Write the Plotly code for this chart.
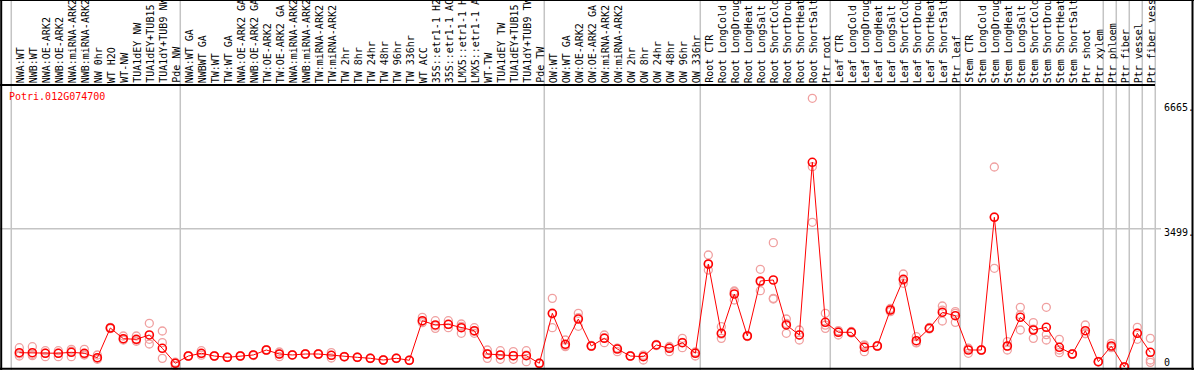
import plotly.graph_objects as go

# ---------------- data ----------------
gene_id = "Potri.012G074700"

categories = [
    "NWA:WT", "NWB:WT", "NWA:OE-ARK2", "NWB:OE-ARK2", "NWA:miRNA-ARK2", "NWB:miRNA-ARK2",
    "NW 0hr", "WT H2O", "WT-NW", "TUA1dEY NW", "TUA1dEY+TUB15 NW", "TUA1dY+TUB9 NW", "Pde NW",
    "NWA:WT GA", "NWBWT GA", "TW:WT", "TW:WT GA", "NWA:OE-ARK2 GA", "NWB:OE-ARK2 GA",
    "TW:OE-ARK2", "TW:OE-ARK2 GA", "NWA:miRNA-ARK2", "NWB:miRNA-ARK2", "TW:miRNA-ARK2",
    "TW:miRNA-ARK2", "TW 2hr", "TW 8hr", "TW 24hr", "TW 48hr", "TW 96hr", "TW 336hr",
    "WT ACC", "35S::etr1-1 H2O", "35S::etr1-1 ACC", "LMX5::etr1-1 H2O", "LMX5::etr1-1 ACC",
    "WT-TW", "TUA1dEY TW", "TUA1dEY+TUB15 TW", "TUA1dY+TUB9 TW", "Pde TW",
    "OW:WT", "OW:WT GA", "OW:OE-ARK2", "OW:OE-ARK2 GA", "OW:miRNA-ARK2", "OW:miRNA-ARK2",
    "OW 2hr", "OW 8hr", "OW 24hr", "OW 48hr", "OW 96hr", "OW 336hr",
    "Root CTR", "Root LongCold", "Root LongDrought", "Root LongHeat", "Root LongSalt",
    "Root ShortCold", "Root ShortDrought", "Root ShortHeat", "Root ShortSalt", "Ptr root",
    "Leaf CTR", "Leaf LongCold", "Leaf LongDrought", "Leaf LongHeat", "Leaf LongSalt",
    "Leaf ShortCold", "Leaf ShortDrought", "Leaf ShortHeat", "Leaf ShortSalt", "Ptr leaf",
    "Stem CTR", "Stem LongCold", "Stem LongDrought", "Stem LongHeat", "Stem LongSalt",
    "Stem ShortCold", "Stem ShortDrought", "Stem ShortHeat", "Stem ShortSalt", "Ptr shoot",
    "Ptr xylem", "Ptr phloem", "Ptr fiber", "Ptr vessel", "Ptr fiber vessel",
]

mean_expr = [
    362, 362, 347, 347, 372, 347, 235, 987, 716, 701, 810, 473, 94,
    278, 347, 278, 245, 278, 304, 430, 329, 304, 329, 329, 296, 261, 245, 220, 177, 220, 170,
    1171, 1063, 1080, 994, 918, 329, 304, 286, 286, 94,
    1359, 574, 1214, 531, 726, 455, 278, 261, 557, 473, 615, 347,
    2606, 853, 1847, 784, 2176, 2201, 1063, 810, 5179, 1131,
    878, 878, 498, 531, 1442, 2219, 665, 979, 1384, 1298,
    430, 430, 3787, 531, 1257, 936, 1004, 498, 329, 918,
    134, 531, 0, 853, 372,
]

rep1 = [
    489, 514, 413, 413, 447, 447, 304, 1004, 784, 784, 1105, 911, 34,
    278, 413, 278, 245, 278, 304, 430, 261, 304, 329, 329, 363, 261, 245, 220, 177, 220, 170,
    1257, 1172, 1172, 1088, 995, 430, 413, 388, 413, 94,
    1737, 683, 1358, 531, 810, 388, 278, 177, 557, 388, 725, 278,
    2834, 1020, 1923, 784, 2471, 3146, 1214, 936, 6798, 1358,
    810, 878, 388, 531, 1442, 2353, 767, 979, 1543, 1358,
    346, 430, 5060, 641, 1510, 1122, 1510, 700, 329, 1063,
    134, 599, 0, 1004, 725,
]
rep2 = [
    278, 287, 261, 261, 261, 304, 194, 970, 683, 683, 582, 616, 90,
    270, 340, 270, 240, 270, 290, 420, 329, 300, 320, 320, 228, 255, 240, 215, 170, 215, 165,
    1122, 978, 995, 852, 852, 219, 194, 194, 135, 80,
    995, 514, 1029, 520, 616, 470, 270, 280, 540, 490, 489, 360,
    2454, 725, 1695, 770, 1931, 1737, 852, 683, 5068, 978,
    900, 860, 540, 520, 1480, 2117, 620, 960, 1164, 1130,
    470, 420, 2497, 430, 936, 725, 683, 363, 320, 850,
    125, 490, 0, 700, 177,
]
rep3 = [
    330, 320, 350, 350, 400, 320, 220, 987, 700, 650, 700, 219, 120,
    290, 300, 290, 250, 290, 310, 440, 380, 310, 335, 335, 296, 270, 250, 225, 185, 225, 175,
    1150, 1040, 1070, 1030, 900, 340, 300, 280, 300, 100,
    1340, 540, 1250, 545, 740, 480, 285, 300, 570, 520, 620, 380,
    2600, 830, 1900, 800, 2150, 1720, 1100, 810, 3661, 1060,
    920, 900, 560, 545, 1400, 2190, 610, 1000, 1440, 1400,
    475, 440, 3800, 520, 1320, 960, 820, 430, 340, 840,
    140, 500, 0, 855, 118,
]

group_sizes = [13, 28, 12, 10, 10, 11, 1, 1, 1, 1]
y_tick_vals = [6665, 3499, 0]
y_tick_text = ["6665.", "3499.", "0"]

# ---------------- geometry (pixels) ----------------
W, H = 1194, 370
X0_PX, STEP = 19.33, 13.0          # pixel x of first category, spacing
Y0_PX = 367.0                       # pixel y of value 0
K = 138.3 / 3499.0                  # pixels per unit
x_range = [(0 - X0_PX) / STEP, (W - X0_PX) / STEP]
y_range = [(Y0_PX - H) / K, Y0_PX / K]

def yp(px):
    return 1 - px / H

FONT = "DejaVu Sans Mono"
GRID = "#c4c4c4"
RED = "#ff0000"
PINK = "#f0a0a0"

xs = list(range(len(categories)))

fig = go.Figure()
fig.add_trace(go.Scatter(
    x=xs * 3, y=rep1 + rep2 + rep3, mode="markers",
    marker=dict(symbol="circle-open", size=8, color=PINK, line=dict(width=1.3, color=PINK)),
    hoverinfo="skip", showlegend=False,
))
fig.add_trace(go.Scatter(
    x=xs, y=mean_expr, mode="lines+markers",
    line=dict(color=RED, width=1),
    marker=dict(symbol="circle-open", size=8, color=RED, line=dict(width=1.6, color=RED)),
    text=categories, showlegend=False,
))

shapes = []
# vertical group separators
starts = [0]
for g in group_sizes:
    starts.append(starts[-1] + g)
for s in starts:
    shapes.append(dict(type="line", xref="x", yref="paper", x0=s - 0.62, x1=s - 0.62,
                       y0=0, y1=1, line=dict(color=GRID, width=1.5), layer="below"))
# horizontal gridline at middle tick
shapes.append(dict(type="line", xref="paper", yref="y", x0=0, x1=1161 / W,
                   y0=y_tick_vals[1], y1=y_tick_vals[1], line=dict(color=GRID, width=1.5), layer="below"))
# header separator
shapes.append(dict(type="line", xref="paper", yref="paper", x0=0, x1=1155 / W,
                   y0=yp(85), y1=yp(85), line=dict(color="black", width=2)))
# frame
shapes.append(dict(type="line", xref="paper", yref="paper", x0=1.2 / W, x1=1.2 / W, y0=0, y1=1,
                   line=dict(color="black", width=2)))
shapes.append(dict(type="line", xref="paper", yref="paper", x0=0, x1=1, y0=yp(368.8), y1=yp(368.8),
                   line=dict(color="black", width=2)))
shapes.append(dict(type="line", xref="paper", yref="paper", x0=1192.5 / W, x1=1192.5 / W, y0=0, y1=1,
                   line=dict(color="black", width=2)))
shapes.append(dict(type="line", xref="paper", yref="paper", x0=0, x1=1, y0=yp(0.5), y1=yp(0.5),
                   line=dict(color="black", width=1)))

annotations = []
for i, c in enumerate(categories):
    annotations.append(dict(
        x=i, y=yp(84), xref="x", yref="paper", text=c, textangle=-90,
        xanchor="center", yanchor="bottom", showarrow=False, xshift=1,
        font=dict(family=FONT, size=10, color="black"), borderpad=0,
    ))
annotations.append(dict(
    x=8 / W, y=yp(96.7), xref="paper", yref="paper", text=gene_id,
    xanchor="left", yanchor="middle", showarrow=False,
    font=dict(family=FONT, size=10, color=RED), borderpad=0,
))
for v, t in zip(y_tick_vals, y_tick_text):
    annotations.append(dict(
        x=1163 / W, y=v, xref="paper", yref="y", text=t,
        xanchor="left", yanchor="middle", yshift=(5 if v == 0 else -4), showarrow=False,
        font=dict(family=FONT, size=10, color="black"), borderpad=0,
    ))

fig.update_layout(
    width=W, height=H,
    margin=dict(l=0, r=0, t=0, b=0),
    paper_bgcolor="white", plot_bgcolor="white",
    xaxis=dict(range=x_range, visible=False, fixedrange=True),
    yaxis=dict(range=y_range, visible=False, fixedrange=True),
    shapes=shapes, annotations=annotations,
    showlegend=False,
)

fig.write_html(
    "out.html",
    config={"displayModeBar": False},
    post_script="document.body.style.margin='0px';document.body.style.overflow='hidden';",
)
